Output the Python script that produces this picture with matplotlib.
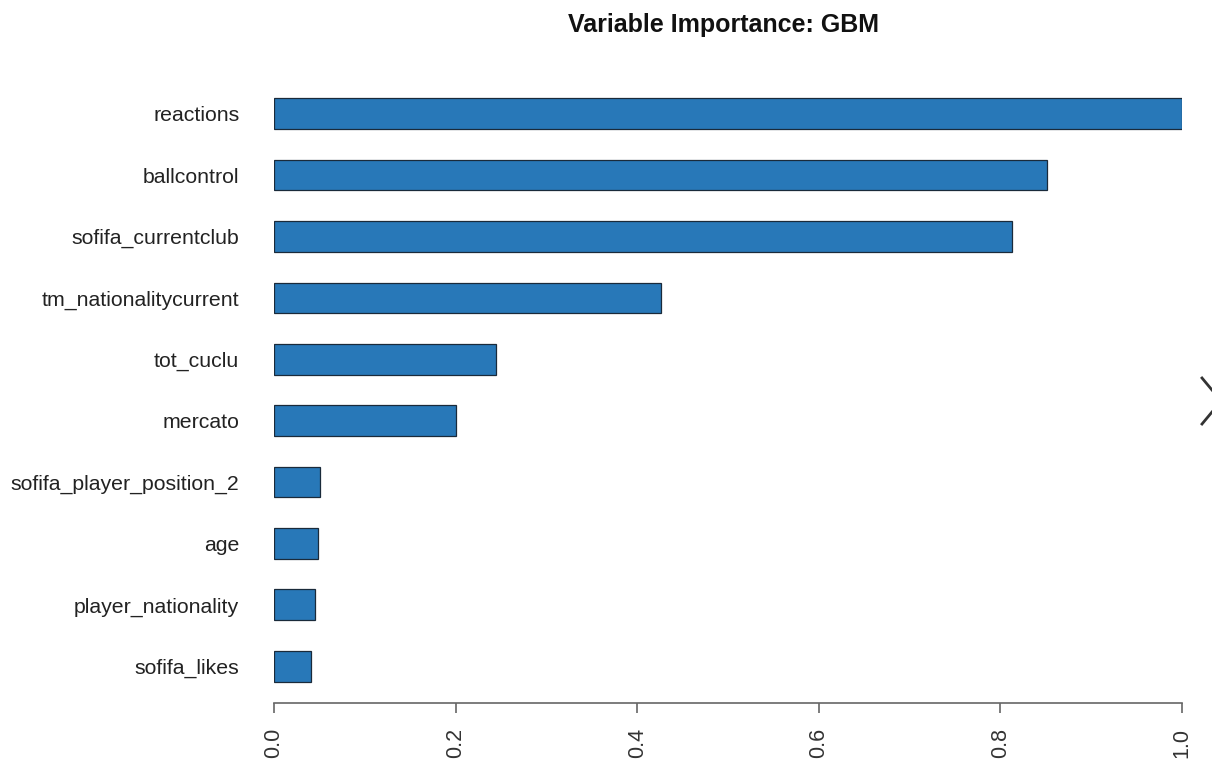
import matplotlib
matplotlib.use("Agg")
import matplotlib.pyplot as plt
from matplotlib.lines import Line2D

plt.rcParams['font.family'] = ['Liberation Sans', 'DejaVu Sans']

# variable importance (scaled), bottom to top
variables = ["sofifa_likes", "player_nationality", "age", "sofifa_player_position_2",
             "mercato", "tot_cuclu", "tm_nationalitycurrent", "sofifa_currentclub",
             "ballcontrol", "reactions"]
importance = [0.041, 0.045, 0.048, 0.051, 0.200, 0.245, 0.426, 0.813, 0.851, 1.0]
xticks = [0.0, 0.2, 0.4, 0.6, 0.8, 1.0]

fig = plt.figure(figsize=(12.12, 7.65), dpi=100)
ax = fig.add_axes([274 / 1212, 62 / 765, 908 / 1212, 623 / 765])

ypos = list(range(len(variables)))
ax.barh(ypos, importance, height=0.5, color="#2878b8", edgecolor="#1a2a3a", linewidth=0.9)

ax.set_xlim(0, 1)
ax.set_ylim(-0.6, 9.55)
ax.set_yticks(ypos)
ax.set_yticklabels(variables, fontsize=15.3, color="#222222")
ax.tick_params(axis="y", length=0, pad=25)

ax.set_xticks(xticks)
ax.set_xticklabels([f"{t:.1f}" for t in xticks], rotation=90, fontsize=15.5, color="#333333")
ax.tick_params(axis="x", length=7, width=1.2, color="#666666", pad=11)

for s in ["top", "right", "left"]:
    ax.spines[s].set_visible(False)
ax.spines["bottom"].set_color("#666666")
ax.spines["bottom"].set_linewidth(1.2)

fig.text(723 / 1212, 1 - 25 / 765, "Variable Importance: GBM", ha="center", va="center",
         fontsize=18, fontweight="bold", color="#111111")

# little arrow at right edge of the screenshot
fig.add_artist(Line2D([1202 / 1212, 1212 / 1212], [1 - 378 / 765, 1 - 390 / 765],
                      transform=fig.transFigure, color="#333333", lw=2))
fig.add_artist(Line2D([1202 / 1212, 1212 / 1212], [1 - 424 / 765, 1 - 412 / 765],
                      transform=fig.transFigure, color="#333333", lw=2))

fig.savefig("out.png", dpi=100)
